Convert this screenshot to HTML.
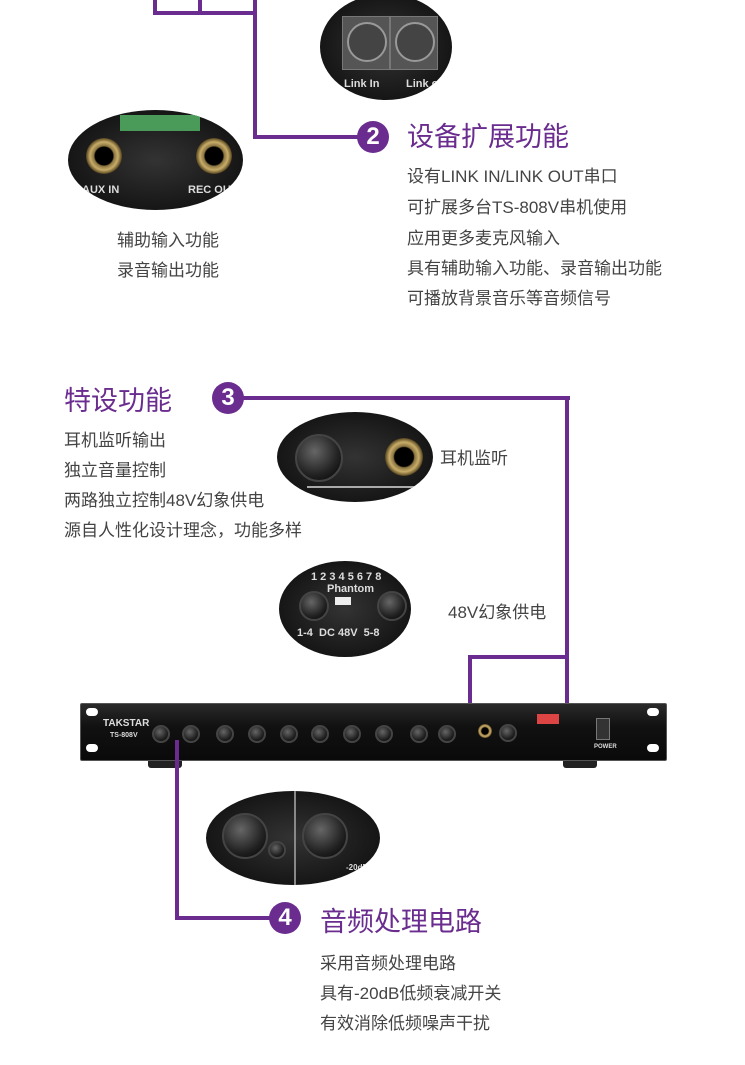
<!DOCTYPE html>
<html><head><meta charset="utf-8"><style>
body{margin:0;width:745px;height:1065px;background:#fff;position:relative;overflow:hidden;font-family:"Liberation Sans","Noto Sans CJK SC",sans-serif;}
.t{position:absolute;white-space:nowrap;color:#444;font-size:17px;line-height:20px;}
.h{position:absolute;white-space:nowrap;color:#6a2d8f;font-size:27px;line-height:32px;}
.ln{position:absolute;background:#6a2d8f;}
.c{position:absolute;width:32px;height:32px;border-radius:50%;background:#6a2d8f;color:#fff;font-weight:bold;font-size:24px;line-height:32px;text-align:center;}
.el{position:absolute;border-radius:50%;background:radial-gradient(ellipse at center,#333 0%,#1a1a1a 60%,#0a0a0a 100%);overflow:hidden;}
.jack{position:absolute;border-radius:50%;background:radial-gradient(circle,#000 35%,#8a7440 40%,#c8ad6a 55%,#5a4820 70%,#111 75%);}
.knob{position:absolute;border-radius:50%;background:radial-gradient(circle at 40% 35%,#666,#222 60%,#000);border:2px solid #444;}
.lbl{position:absolute;color:#ddd;font-size:11px;font-weight:bold;white-space:nowrap;}
</style></head><body>

<div class="ln" style="left:153px;top:0;width:4px;height:14px"></div>
<div class="ln" style="left:198px;top:0;width:4px;height:14px"></div>
<div class="ln" style="left:153px;top:11px;width:104px;height:4px"></div>
<div class="ln" style="left:253px;top:0;width:4px;height:139px"></div>
<div class="ln" style="left:253px;top:135px;width:110px;height:4px"></div>
<div class="c" style="left:357px;top:121px">2</div>

<div class="el" style="left:320px;top:-6px;width:132px;height:106px">
 <div style="position:absolute;left:22px;top:22px;width:46px;height:52px;background:#555;border:1px solid #777"></div>
 <div style="position:absolute;left:70px;top:22px;width:46px;height:52px;background:#555;border:1px solid #777"></div>
 <div style="position:absolute;left:27px;top:28px;width:36px;height:36px;border-radius:50%;background:#444;border:2px solid #999"></div>
 <div style="position:absolute;left:75px;top:28px;width:36px;height:36px;border-radius:50%;background:#444;border:2px solid #999"></div>
 <div class="lbl" style="left:24px;top:84px">Link In</div>
 <div class="lbl" style="left:86px;top:84px">Link out</div>
</div>

<div class="el" style="left:68px;top:110px;width:175px;height:100px">
 <div style="position:absolute;left:52px;top:5px;width:80px;height:16px;background:#4a9a5a"></div>
 <div class="jack" style="left:18px;top:28px;width:36px;height:36px"></div>
 <div class="jack" style="left:128px;top:28px;width:36px;height:36px"></div>
 <div class="lbl" style="left:14px;top:74px">AUX IN</div>
 <div class="lbl" style="left:120px;top:74px">REC OUT</div>
</div>

<div class="h" style="left:407px;top:121px">设备扩展功能</div>
<div class="t" style="left:407px;top:167px">设有LINK IN/LINK OUT串口</div>
<div class="t" style="left:407px;top:198px">可扩展多台TS-808V串机使用</div>
<div class="t" style="left:407px;top:229px">应用更多麦克风输入</div>
<div class="t" style="left:407px;top:259px">具有辅助输入功能、录音输出功能</div>
<div class="t" style="left:407px;top:289px">可播放背景音乐等音频信号</div>
<div class="t" style="left:117px;top:231px">辅助输入功能</div>
<div class="t" style="left:117px;top:261px">录音输出功能</div>

<div class="h" style="left:64px;top:385px">特设功能</div>
<div class="c" style="left:212px;top:382px">3</div>
<div class="ln" style="left:240px;top:396px;width:330px;height:4px"></div>
<div class="ln" style="left:565px;top:396px;width:4px;height:345px"></div>
<div class="ln" style="left:468px;top:655px;width:100px;height:4px"></div>
<div class="ln" style="left:468px;top:655px;width:4px;height:85px"></div>
<div class="t" style="left:64px;top:431px">耳机监听输出</div>
<div class="t" style="left:64px;top:461px">独立音量控制</div>
<div class="t" style="left:64px;top:491px">两路独立控制48V幻象供电</div>
<div class="t" style="left:64px;top:521px">源自人性化设计理念，功能多样</div>

<div class="el" style="left:277px;top:412px;width:156px;height:90px">
 <div class="knob" style="left:18px;top:22px;width:44px;height:44px"></div>
 <div class="jack" style="left:108px;top:26px;width:38px;height:38px"></div>
 <div style="position:absolute;left:30px;top:74px;width:110px;height:2px;background:#aaa"></div>
</div>
<div class="t" style="left:440px;top:449px">耳机监听</div>

<div class="el" style="left:279px;top:561px;width:132px;height:96px">
 <div class="lbl" style="left:32px;top:10px">1 2 3 4 5 6 7 8</div>
 <div class="lbl" style="left:48px;top:22px">Phantom</div>
 <div class="knob" style="left:20px;top:30px;width:26px;height:26px"></div>
 <div class="knob" style="left:98px;top:30px;width:26px;height:26px"></div>
 <div style="position:absolute;left:56px;top:36px;width:16px;height:8px;background:#eee"></div>
 <div class="lbl" style="left:18px;top:66px">1-4 &nbsp;DC 48V &nbsp;5-8</div>
</div>
<div class="t" style="left:448px;top:603px">48V幻象供电</div>

<div style="position:absolute;left:148px;top:756px;width:34px;height:12px;background:#222;border-radius:3px"></div>
<div style="position:absolute;left:563px;top:756px;width:34px;height:12px;background:#222;border-radius:3px"></div>
<div style="position:absolute;left:80px;top:703px;width:585px;height:56px;background:linear-gradient(#2a2a2a,#111 40%,#0a0a0a);border:1px solid #555;border-radius:2px"></div>
<div style="position:absolute;left:86px;top:708px;width:12px;height:8px;border-radius:4px;background:#fff"></div>
<div style="position:absolute;left:86px;top:744px;width:12px;height:8px;border-radius:4px;background:#fff"></div>
<div style="position:absolute;left:647px;top:708px;width:12px;height:8px;border-radius:4px;background:#fff"></div>
<div style="position:absolute;left:647px;top:744px;width:12px;height:8px;border-radius:4px;background:#fff"></div>
<div class="lbl" style="left:103px;top:718px;font-size:10px">TAKSTAR</div>
<div class="lbl" style="left:110px;top:732px;font-size:7px">TS-808V</div>
<div style="position:absolute;left:148px;top:713px;width:326px;height:35px">
 <div class="knob" style="left:4px;top:12px;width:14px;height:14px"></div><div class="knob" style="left:34px;top:12px;width:14px;height:14px"></div>
 <div class="knob" style="left:68px;top:12px;width:14px;height:14px"></div><div class="knob" style="left:100px;top:12px;width:14px;height:14px"></div>
 <div class="knob" style="left:132px;top:12px;width:14px;height:14px"></div><div class="knob" style="left:163px;top:12px;width:14px;height:14px"></div>
 <div class="knob" style="left:195px;top:12px;width:14px;height:14px"></div><div class="knob" style="left:227px;top:12px;width:14px;height:14px"></div>
 <div class="knob" style="left:262px;top:12px;width:14px;height:14px"></div><div class="knob" style="left:290px;top:12px;width:14px;height:14px"></div>
</div>
<div class="jack" style="left:478px;top:724px;width:14px;height:14px"></div>
<div class="knob" style="left:499px;top:724px;width:14px;height:14px"></div>
<div style="position:absolute;left:537px;top:714px;width:22px;height:10px;background:#d44"></div>
<div style="position:absolute;left:596px;top:718px;width:12px;height:20px;background:#333;border:1px solid #777"></div>
<div class="lbl" style="left:594px;top:744px;font-size:6px">POWER</div>

<div class="ln" style="left:175px;top:740px;width:4px;height:180px"></div>
<div class="ln" style="left:175px;top:916px;width:100px;height:4px"></div>
<div class="c" style="left:269px;top:902px">4</div>
<div class="el" style="left:206px;top:791px;width:174px;height:94px">
 <div class="knob" style="left:16px;top:22px;width:42px;height:42px"></div>
 <div class="knob" style="left:96px;top:22px;width:42px;height:42px"></div>
 <div style="position:absolute;left:88px;top:0;width:2px;height:94px;background:#888"></div>
 <div class="knob" style="left:62px;top:50px;width:14px;height:14px"></div>
 <div class="lbl" style="left:140px;top:72px;font-size:8px">-20dB</div>
</div>
<div class="h" style="left:320px;top:906px">音频处理电路</div>
<div class="t" style="left:320px;top:954px">采用音频处理电路</div>
<div class="t" style="left:320px;top:984px">具有-20dB低频衰减开关</div>
<div class="t" style="left:320px;top:1014px">有效消除低频噪声干扰</div>
</body></html>
